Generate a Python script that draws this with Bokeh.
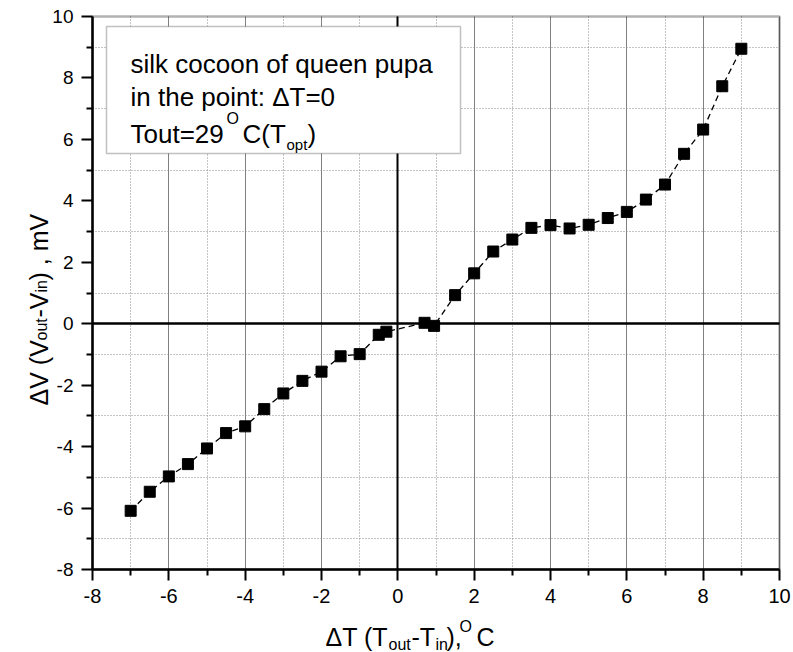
import math
from bokeh.plotting import figure
from bokeh.models import (Range1d, FixedTicker, BoxAnnotation, Label, LinearAxis, Grid)
from bokeh.embed import file_html
from bokeh.resources import INLINE

# ---- data ----
dT = [-7, -6.5, -6, -5.5, -5, -4.5, -4, -3.5, -3, -2.5, -2, -1.5, -1, -0.5, -0.3,
      0.7, 0.95, 1.5, 2, 2.5, 3, 3.5, 4, 4.5, 5, 5.5, 6, 6.5, 7, 7.5, 8, 8.5, 9]
dV = [-6.09, -5.47, -4.97, -4.57, -4.06, -3.56, -3.34, -2.78, -2.27, -1.86, -1.56,
      -1.06, -0.99, -0.36, -0.26, 0.03, -0.07, 0.93, 1.64, 2.35, 2.74, 3.12, 3.21,
      3.10, 3.22, 3.44, 3.64, 4.04, 4.53, 5.53, 6.32, 7.73, 8.95]
x_major = [-8, -6, -4, -2, 0, 2, 4, 6, 8, 10]
x_minor = [-7, -5, -3, -1, 1, 3, 5, 7, 9]
y_major = [-8, -6, -4, -2, 0, 2, 4, 6, 8, 10]
y_minor = [-7, -5, -3, -1, 1, 3, 5, 7, 9]
x_lim = (-8, 10)
y_lim = (-8, 10)

FONT = "Liberation Sans"
W, H = 793, 652
FL, FR, FT, FB = 92, 779, 16, 569  # pixel edges of the data area

def dx(px):
    return x_lim[0] + (px - FL) * (x_lim[1] - x_lim[0]) / (FR - FL)

def dy(py):
    return y_lim[1] - (py - FT) * (y_lim[1] - y_lim[0]) / (FB - FT)

p = figure(width=W, height=H, output_backend="svg", toolbar_location=None, title=None,
           x_axis_type=None, y_axis_type=None, min_border=0)
p.x_range = Range1d(dx(0), dx(W))
p.y_range = Range1d(dy(H), dy(0))
p.background_fill_color = "white"
p.border_fill_color = "white"
p.outline_line_color = None

# grids limited to the data area
p.add_layout(Grid(dimension=0, ticker=FixedTicker(ticks=x_major, minor_ticks=x_minor),
                  bounds=x_lim, cross_bounds=y_lim,
                  grid_line_color="#808080", grid_line_width=1,
                  minor_grid_line_color="#8a8a8a", minor_grid_line_dash="1 2",
                  minor_grid_line_width=1))
p.add_layout(Grid(dimension=1, ticker=FixedTicker(ticks=y_major, minor_ticks=y_minor),
                  bounds=y_lim, cross_bounds=x_lim,
                  grid_line_color=None,
                  minor_grid_line_color="#8a8a8a", minor_grid_line_dash="1 2",
                  minor_grid_line_width=1))
# zero lines
p.add_layout(Grid(dimension=1, ticker=FixedTicker(ticks=[0]), cross_bounds=x_lim,
                  grid_line_color="black", grid_line_width=2.5))
p.add_layout(Grid(dimension=0, ticker=FixedTicker(ticks=[0]), cross_bounds=y_lim,
                  grid_line_color="black", grid_line_width=2))

def style_axis(ax, ticks, size):
    ax.axis_line_color = "black"
    ax.axis_line_width = 2.5
    ax.major_tick_line_color = "black"
    ax.major_tick_line_width = 2
    ax.minor_tick_line_color = "black"
    ax.minor_tick_line_width = 2
    ax.major_tick_out = 11
    ax.major_tick_in = 0
    ax.minor_tick_out = 6
    ax.minor_tick_in = 0
    ax.major_label_text_font = FONT
    ax.major_label_text_font_size = f"{size}px"
    ax.major_label_text_color = "black"
    ax.major_label_standoff = 8
    ax.major_label_overrides = {float(t): str(t) for t in ticks}

xaxis = LinearAxis(ticker=FixedTicker(ticks=x_major, minor_ticks=x_minor),
                   fixed_location=y_lim[0], bounds=x_lim)
style_axis(xaxis, x_major, 20)
p.add_layout(xaxis, "below")
yaxis = LinearAxis(ticker=FixedTicker(ticks=y_major, minor_ticks=y_minor),
                   fixed_location=x_lim[0], bounds=y_lim)
style_axis(yaxis, y_major, 19)
p.add_layout(yaxis, "left")

# frame of the data area
p.add_layout(BoxAnnotation(left=x_lim[0], right=x_lim[1], bottom=y_lim[0], top=y_lim[1],
                           fill_color=None, line_color="black", line_width=2.5,
                           level="underlay"))

p.line(dT, dV, line_color="black", line_width=1.3, line_dash="6 4")
p.scatter(dT, dV, marker="square", size=11, fill_color="black", line_color="black")

# legend-like text box
p.add_layout(BoxAnnotation(left=dx(106), right=dx(460), top=dy(26), bottom=dy(153),
                           fill_color="white", fill_alpha=1.0,
                           line_color="#333333", line_width=1.5, level="annotation"))

def lab(text, px, py, size, angle=0.0):
    p.add_layout(Label(x=dx(px), y=dy(py), text=text, text_font=FONT,
                       text_font_size=f"{size}px", text_color="black",
                       text_baseline="alphabetic", text_align="left", angle=angle))

lab("silk cocoon of queen pupa", 130, 63, 26)
lab("in the point: \u0394T=0", 130, 96, 26)
lab("Tout=29", 130, 133, 26)
lab("O", 226, 118, 16)
lab("C(T", 242, 133, 26)
lab("opt", 286, 144, 15)
lab(")", 307, 133, 26)

# x axis title
lab("\u0394T (T", 325, 636, 25)
lab("out", 388, 644, 16)
lab("-T", 411, 636, 25)
lab("in", 435, 644, 16)
lab("),", 446, 636, 25)
lab("O", 459, 626, 16)
lab("C", 476, 636, 25)

# y axis title (rotated)
A = math.pi / 2
lab("\u0394V (V", 38, 405, 25, A)
lab("out", 41, 340, 16, A)
lab("-V", 38, 317, 25, A)
lab("in", 41, 292, 16, A)
lab(") , mV", 38, 280, 25, A)

open("out.html", "w").write(file_html(p, INLINE))
